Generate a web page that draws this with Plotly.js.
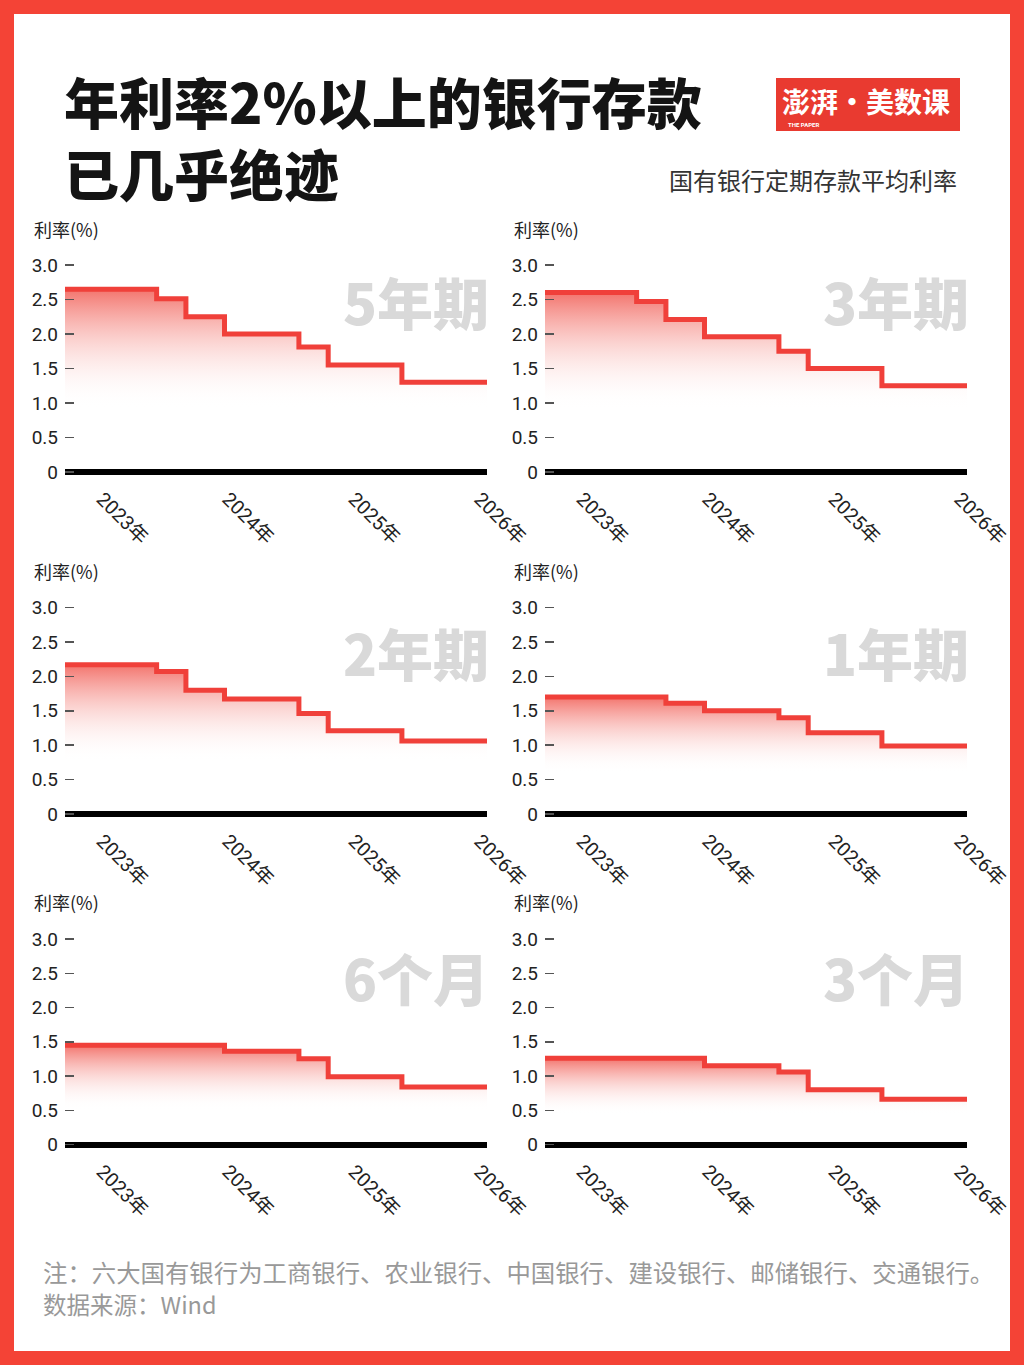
<!DOCTYPE html>
<html><head><meta charset="utf-8">
<script src="https://cdn.plot.ly/plotly-3.0.1.min.js"></script>
<style>html,body{margin:0;padding:0;background:#fff}#chart{width:1024px;height:1365px}</style>
</head><body><div id="chart"></div>
<script>
// ---- data ----
const dates7 = ['2022-09-15','2023-06-08','2023-09-01','2023-12-22','2024-07-25','2024-10-18','2025-05-20','2026-01-22'];
const dates6 = ['2022-09-15','2023-09-01','2023-12-22','2024-07-25','2024-10-18','2025-05-20','2026-01-22'];
const dates5 = ['2022-09-15','2023-12-22','2024-07-25','2024-10-18','2025-05-20','2026-01-22'];
const rate5y = [2.65, 2.51, 2.25, 2.00, 1.81, 1.55, 1.30, 1.30];
const rate3y = [2.60, 2.47, 2.21, 1.96, 1.75, 1.50, 1.25, 1.25];
const rate2y = [2.17, 2.07, 1.80, 1.67, 1.46, 1.21, 1.06, 1.06];
const rate1y = [1.70, 1.61, 1.50, 1.40, 1.18, 0.99, 0.99];
const rate6m = [1.45, 1.36, 1.25, 0.99, 0.84, 0.84];
const rate3m = [1.26, 1.15, 1.06, 0.80, 0.66, 0.66];
const panelNames = ['5年期','3年期','2年期','1年期','6个月','3个月'];
const yTickVals = [0, 0.5, 1.0, 1.5, 2.0, 2.5, 3.0];
const yTickText = ['0','0.5','1.0','1.5','2.0','2.5','3.0'];
const xTickVals = ['2023-01-01','2024-01-01','2025-01-01','2026-01-01'];
const xTickText = ['2023年','2024年','2025年','2026年'];
const xRange = ['2022-09-15','2026-01-22'];
const titleLines = ['年利率2%以上的银行存款', '已几乎绝迹'];
const subtitle = '国有银行定期存款平均利率';
const yTitle = '利率(%)';
const note = '注：六大国有银行为工商银行、农业银行、中国银行、建设银行、邮储银行、交通银行。';
const source = '数据来源：Wind';
const logoText = '澎湃·美数课';
const logoSub = 'THE PAPER';

// ---- layout helpers ----
const W = 1024, H = 1365;
const px = v => v / W, py = v => 1 - v / H;
const FONT = 'Roboto, "Noto Sans CJK SC", sans-serif';
const CJK = '"Noto Sans CJK SC", sans-serif';
const RED = '#f0403a';
const series = [
  {x: dates7, y: rate5y}, {x: dates7, y: rate3y},
  {x: dates7, y: rate2y}, {x: dates6, y: rate1y},
  {x: dates5, y: rate6m}, {x: dates5, y: rate3m}
];
const colL = [65, 545], colR = [487, 967];
const rowZero = [472, 814, 1144.5], rowScale = [69, 68.8, 68.5];
const rowYTitle = [229, 571, 902], rowMark = [300, 651, 976];
const yMin = -0.1, yMax = 3.2;

const traces = [], annotations = [];
const layout = {
  width: W, height: H, margin: {l:0, r:0, t:0, b:0},
  paper_bgcolor: '#fff', plot_bgcolor: 'rgba(0,0,0,0)',
  showlegend: false, font: {family: FONT, color: '#222'},
  shapes: [], annotations: annotations
};

series.forEach((s, i) => {
  const col = i % 2, row = Math.floor(i / 2);
  const n = i + 1, sfx = n === 1 ? '' : String(n);
  traces.push({
    type: 'scatter', mode: 'lines', x: s.x, y: s.y,
    xaxis: 'x' + sfx, yaxis: 'y' + sfx,
    line: {shape: 'hv', color: RED, width: 5},
    fill: 'tozeroy',
    fillgradient: {
      type: 'vertical', start: 0, stop: Math.max(...s.y),
      colorscale: [[0, 'rgba(255,255,255,0)'], [0.35, 'rgba(255,255,255,0)'], [1, 'rgba(238,62,52,0.72)']]
    },
    hoverinfo: 'skip'
  });
  const top = rowZero[row] - yMax * rowScale[row];
  const bot = rowZero[row] - yMin * rowScale[row];
  layout['xaxis' + sfx] = {
    domain: [px(colL[col]), px(colR[col])], anchor: 'y' + sfx,
    type: 'date', range: xRange, tickvals: xTickVals, ticktext: xTickText,
    tickangle: 45, tickfont: {size: 19.5, color: '#222', family: FONT},
    ticklabelstandoff: 4,
    showgrid: false, zeroline: false, showline: false, ticks: ''
  };
  layout['yaxis' + sfx] = {
    domain: [py(bot), py(top)], anchor: 'x' + sfx,
    range: [yMin, yMax], tickvals: yTickVals, ticktext: yTickText,
    tickfont: {size: 19, color: '#222', family: FONT},
    ticks: 'inside', ticklen: 9, tickwidth: 1.5, tickcolor: '#555',
    ticklabelstandoff: 6,
    showgrid: false, showline: false,
    zeroline: true, zerolinecolor: '#000', zerolinewidth: 6
  };
  annotations.push({
    xref: 'paper', yref: 'paper', x: px(colL[col] - 33), y: py(rowYTitle[row]),
    xanchor: 'left', yanchor: 'middle', showarrow: false, text: yTitle,
    font: {size: 18, color: '#222', family: CJK}
  });
  annotations.push({
    xref: 'paper', yref: 'paper', x: px(colR[col] + 4), y: py(rowMark[row]),
    xanchor: 'right', yanchor: 'middle', showarrow: false, text: panelNames[i],
    font: {size: 56, color: '#d9d9d9', family: CJK, weight: 900}
  });
});

// titles & texts
annotations.push({xref:'paper', yref:'paper', x: px(62), y: py(136.5), xanchor:'left', yanchor:'middle', align:'left', showarrow:false,
  text: titleLines.join('<br>'), font: {size: 55, color: '#141414', family: CJK, weight: 900}});
annotations.push({xref:'paper', yref:'paper', x: px(959), y: py(180), xanchor:'right', yanchor:'middle', showarrow:false,
  text: subtitle, font: {size: 24, color: '#333', family: CJK}});
annotations.push({xref:'paper', yref:'paper', x: px(41), y: py(1271), xanchor:'left', yanchor:'middle', showarrow:false,
  text: note, font: {size: 24.4, color: '#999', family: CJK}});
annotations.push({xref:'paper', yref:'paper', x: px(41), y: py(1304), xanchor:'left', yanchor:'middle', showarrow:false,
  text: source, font: {size: 23.5, color: '#999', family: CJK}});
// logo
layout.shapes.push({type:'rect', xref:'paper', yref:'paper', x0: px(776), x1: px(960), y0: py(131), y1: py(78),
  fillcolor: '#e93a30', line: {width: 0}, layer: 'below'});
annotations.push({xref:'paper', yref:'paper', x: px(866), y: py(101), xanchor:'center', yanchor:'middle', showarrow:false,
  text: logoText, font: {size: 28, color: '#fff', family: CJK, weight: 700}});
annotations.push({xref:'paper', yref:'paper', x: px(786), y: py(124), xanchor:'left', yanchor:'middle', showarrow:false,
  text: logoSub, font: {size: 6, color: '#fff', family: FONT, weight: 700}});
// border
layout.shapes.push({type:'rect', xref:'paper', yref:'paper', x0: 0, x1: 1, y0: 0, y1: 1,
  line: {color: '#f44336', width: 28}, fillcolor: 'rgba(0,0,0,0)', layer: 'above'});

Plotly.newPlot('chart', traces, layout, {staticPlot: true, displayModeBar: false});
</script>
</body></html>
